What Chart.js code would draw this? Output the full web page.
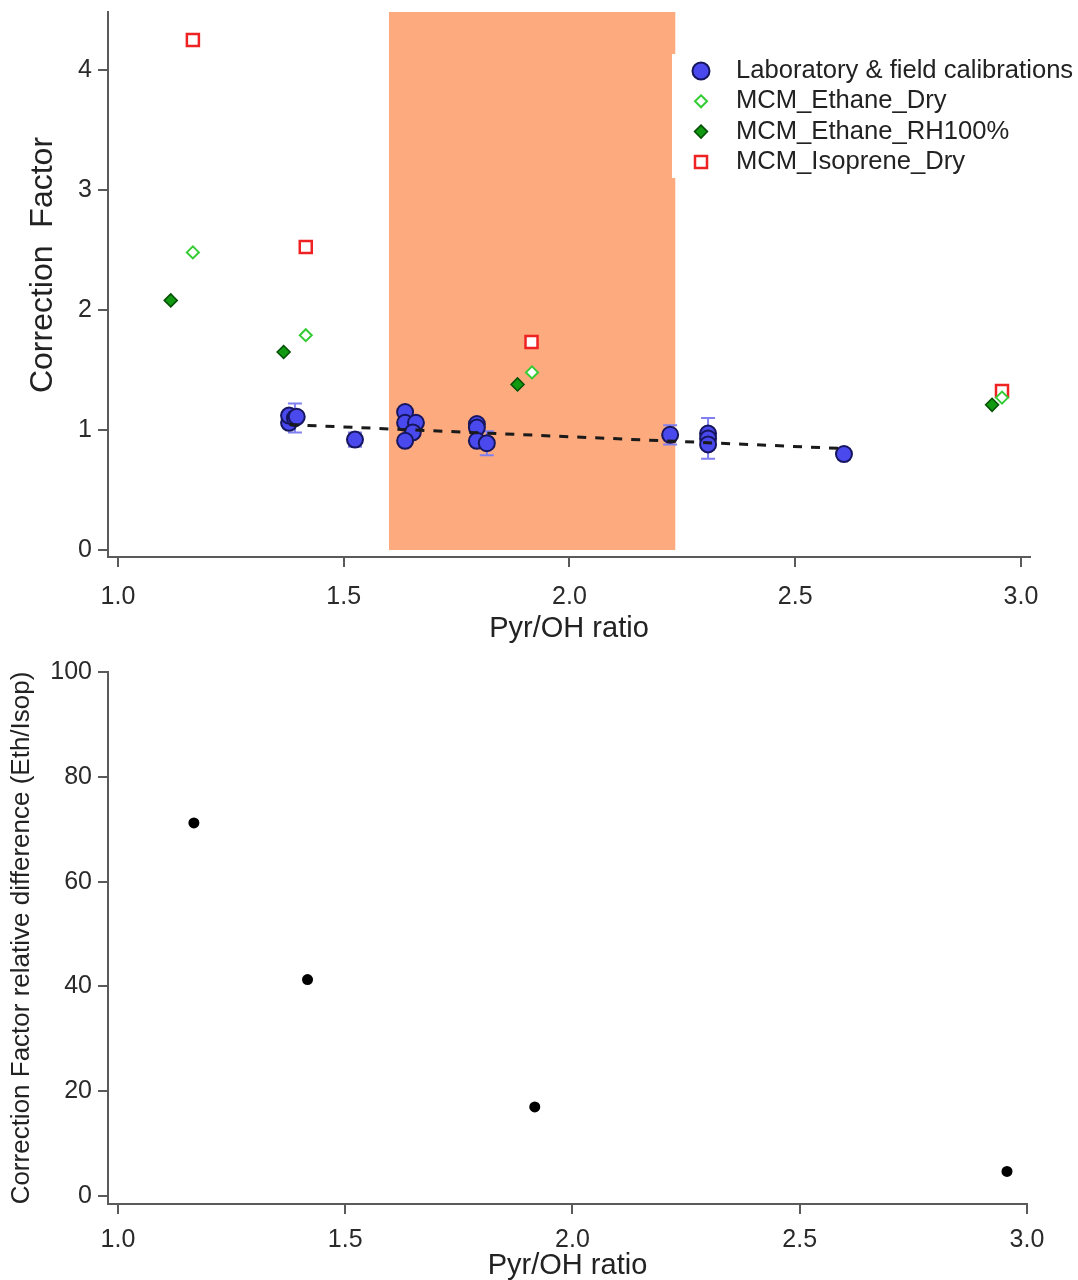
<!DOCTYPE html>
<html><head><meta charset="utf-8">
<script src="https://cdn.jsdelivr.net/npm/chart.js@4.4.1/dist/chart.umd.min.js"></script>
<style>
body{margin:0;background:#fff;}
#w1{position:absolute;left:0;top:0;width:1078px;height:645px;}
#w2{position:absolute;left:0;top:645px;width:1078px;height:635px;}
</style></head><body>
<div id="w1"><canvas id="c1"></canvas></div>
<div id="w2"><canvas id="c2"></canvas></div>
<script>
// ---- data ----
const labX   = [1.379, 1.379, 1.392, 1.396, 1.525, 1.636, 1.636, 1.660, 1.653, 1.636, 1.795, 1.795, 1.795, 1.817, 2.223, 2.307, 2.307, 2.307, 2.608];
const labY   = [1.06,  1.12,  1.10,  1.11,  0.92,  1.15,  1.06,  1.06,  0.98,  0.91,  1.05,  1.02,  0.91,  0.89,  0.96,  0.97,  0.93,  0.88,  0.80];
const labErr = [0,     0,     0.12,  0,     0.06,  0,     0,     0,     0,     0,     0,     0,     0,     0.10,  0.08,  0,     0.17,  0,     0.04];
const fitX = [1.38, 2.61];
const fitY = [1.045, 0.845];
const ethDryX = [1.166, 1.416, 1.917, 2.958];
const ethDryY = [2.48, 1.79, 1.48, 1.27];
const ethRHX  = [1.117, 1.367, 1.885, 2.936];
const ethRHY  = [2.08, 1.65, 1.38, 1.21];
const isoX    = [1.166, 1.416, 1.916, 2.958];
const isoY    = [4.25, 2.525, 1.733, 1.325];
const bandX   = [1.6, 2.235];
const diffX   = [1.167, 1.417, 1.917, 2.956];
const diffY   = [71.2, 41.3, 17.0, 4.7];
const xTicks = [1.0, 1.5, 2.0, 2.5, 3.0];
const xTickLabels = ['1.0', '1.5', '2.0', '2.5', '3.0'];
const yTicksTop = [0, 1, 2, 3, 4];
const yTickLabelsTop = ['0', '1', '2', '3', '4'];
const yTicksBottom = [0, 20, 40, 60, 80, 100];
const yTickLabelsBottom = ['0', '20', '40', '60', '80', '100'];
const seriesNames = ['Laboratory & field calibrations', 'MCM_Ethane_Dry', 'MCM_Ethane_RH100%', 'MCM_Isoprene_Dry'];

// ---- settings ----
const FONT = "'Liberation Sans', Arial, sans-serif";
Chart.defaults.font.family = FONT;
Chart.defaults.animation = false;
const AXIS = '#5a5a5a';
const TOP_YMAX = 4.483, TOP_YMIN = -0.058;

const pts = (xs, ys) => xs.map((x, i) => ({x, y: ys[i]}));

function xScale(min, max, pad, h, title, tpad) {
  return {
    type: 'linear', position: 'bottom', min, max,
    afterBuildTicks: s => { s.ticks = xTicks.map(v => ({value: v})); },
    afterFit: s => { s.height = h; s.paddingLeft = 0; s.paddingRight = 0; },
    border: {display: true, color: AXIS, width: 2},
    grid: {display: true, drawOnChartArea: false, drawTicks: true, tickLength: 10, color: AXIS, lineWidth: 2},
    ticks: {font: {size: 25}, color: '#2a2a2a', padding: pad, maxRotation: 0, autoSkip: false,
            callback: (v, i) => xTickLabels[i]},
    title: {display: true, text: title, font: {size: 29, lineHeight: 1.0}, color: '#222', padding: {top: 0, bottom: tpad}}
  };
}
function yScale(min, max, ticks, labels, titleOpts) {
  return {
    type: 'linear', position: 'left', min, max,
    afterBuildTicks: s => { s.ticks = ticks.map(v => ({value: v})); },
    afterFit: s => { s.width = 108; s.paddingTop = 0; s.paddingBottom = 0; },
    border: {display: true, color: AXIS, width: 2},
    grid: {display: true, drawOnChartArea: false, drawTicks: true, tickLength: 10, color: AXIS, lineWidth: 2},
    ticks: {font: {size: 25}, color: '#2a2a2a', padding: 6, autoSkip: false, callback: (v, i) => labels[i]},
    title: titleOpts
  };
}

const errorBars = {
  id: 'errorBars',
  beforeDatasetDraw(chart, args) {
    const ds = chart.data.datasets[args.index];
    if (!ds.errors) return;
    const {ctx, scales: {x, y}} = chart;
    ctx.save();
    ctx.strokeStyle = ds.errorColor; ctx.lineWidth = 2;
    ds.data.forEach((p, i) => {
      const e = ds.errors[i]; if (!e) return;
      const px = x.getPixelForValue(p.x), y1 = y.getPixelForValue(p.y + e), y2 = y.getPixelForValue(p.y - e);
      ctx.beginPath();
      ctx.moveTo(px, y1); ctx.lineTo(px, y2);
      ctx.moveTo(px - 7, y1); ctx.lineTo(px + 7, y1);
      ctx.moveTo(px - 7, y2); ctx.lineTo(px + 7, y2);
      ctx.stroke();
    });
    ctx.restore();
  }
};

function marker(ctx, style, x, y, r) {
  ctx.beginPath();
  if (style === 'circle') ctx.arc(x, y, r, 0, Math.PI * 2);
  else if (style === 'rectRot') { ctx.moveTo(x, y - r); ctx.lineTo(x + r, y); ctx.lineTo(x, y + r); ctx.lineTo(x - r, y); ctx.closePath(); }
  else { ctx.rect(x - r, y - r, 2 * r, 2 * r); }
  ctx.fill(); ctx.stroke();
}

const boxLegend = {
  id: 'boxLegend',
  afterDraw(chart) {
    const ctx = chart.ctx;
    ctx.save();
    ctx.fillStyle = '#fff';
    ctx.fillRect(672, 54, 406, 124);
    const items = chart.data.datasets.filter(d => d.legendR);
    items.forEach((d, i) => {
      const yy = 71 + i * 30.3;
      ctx.fillStyle = d.backgroundColor; ctx.strokeStyle = d.borderColor; ctx.lineWidth = d.borderWidth;
      marker(ctx, d.pointStyle, 701, yy, d.legendR);
      ctx.fillStyle = '#222'; ctx.font = '25.6px ' + FONT; ctx.textBaseline = 'middle'; ctx.textAlign = 'left';
      ctx.fillText(d.label, 736, yy);
    });
    ctx.restore();
  }
};

const topYTitle = {
  id: 'topYTitle',
  afterDraw(chart) {
    const ctx = chart.ctx;
    ctx.save();
    ctx.translate(43, 265); ctx.rotate(-Math.PI / 2);
    ctx.font = '32px ' + FONT; ctx.fillStyle = '#222';
    ctx.textAlign = 'center'; ctx.textBaseline = 'middle';
    ctx.fillText('Correction  Factor', 0, 0);
    ctx.restore();
  }
};

new Chart(document.getElementById('c1'), {
  type: 'scatter',
  data: {datasets: [
    {label: 'fit', type: 'line', data: pts(fitX, fitY), borderColor: '#1a1a1a', borderWidth: 3, borderDash: [9, 9],
     pointRadius: 0, fill: false, order: 0},
    {label: seriesNames[0], data: pts(labX, labY), errors: labErr, errorColor: '#8080f0',
     pointStyle: 'circle', pointRadius: 8, backgroundColor: '#4949ee', borderColor: '#16165e', borderWidth: 2,
     legendR: 8.5, order: 1},
    {label: seriesNames[1], data: pts(ethDryX, ethDryY), pointStyle: 'rectRot', pointRadius: 6,
     backgroundColor: '#ffffff', borderColor: '#33cc33', borderWidth: 2, legendR: 6, order: 2},
    {label: seriesNames[2], data: pts(ethRHX, ethRHY), pointStyle: 'rectRot', pointRadius: 6.5,
     backgroundColor: '#119911', borderColor: '#045004', borderWidth: 1.5, legendR: 6.5, order: 3},
    {label: seriesNames[3], data: pts(isoX, isoY), pointStyle: 'rect', pointRadius: 8.5,
     backgroundColor: '#ffffff', borderColor: '#ee2222', borderWidth: 2.5, legendR: 6, order: 4},
    {label: 'band', type: 'line', data: bandX.map(x => ({x, y: TOP_YMAX})), borderWidth: 0, pointRadius: 0,
     backgroundColor: '#fdaa7e', borderColor: 'rgba(0,0,0,0)', fill: 'origin', order: 10}
  ]},
  options: {
    responsive: true, maintainAspectRatio: false,
    layout: {padding: {top: 12, right: 48, left: 0, bottom: 0}},
    plugins: {legend: {display: false}, tooltip: {enabled: false}},
    scales: {
      x: xScale(0.978, 3.02, 15, 88, 'Pyr/OH ratio', 2),
      y: yScale(TOP_YMIN, TOP_YMAX, yTicksTop, yTickLabelsTop, {display: false})
    }
  },
  plugins: [errorBars, boxLegend, topYTitle]
});

new Chart(document.getElementById('c2'), {
  type: 'scatter',
  data: {datasets: [
    {label: 'Correction Factor relative difference (Eth/Isop)', data: pts(diffX, diffY), pointStyle: 'circle',
     pointRadius: 5.5, backgroundColor: '#000', borderColor: '#000', borderWidth: 0}
  ]},
  options: {
    responsive: true, maintainAspectRatio: false,
    layout: {padding: {top: 27, right: 51, left: 0, bottom: 0}},
    plugins: {legend: {display: false}, tooltip: {enabled: false}},
    scales: {
      x: xScale(0.978, 3.0, 11, 76, 'Pyr/OH ratio', 0),
      y: yScale(-1.52, 100, yTicksBottom, yTickLabelsBottom,
        {display: true, text: 'Correction Factor relative difference (Eth/Isop)', font: {size: 26, lineHeight: 1.2},
         color: '#222', padding: {top: 6, bottom: 0}})
    }
  }
});
</script>
</body></html>
